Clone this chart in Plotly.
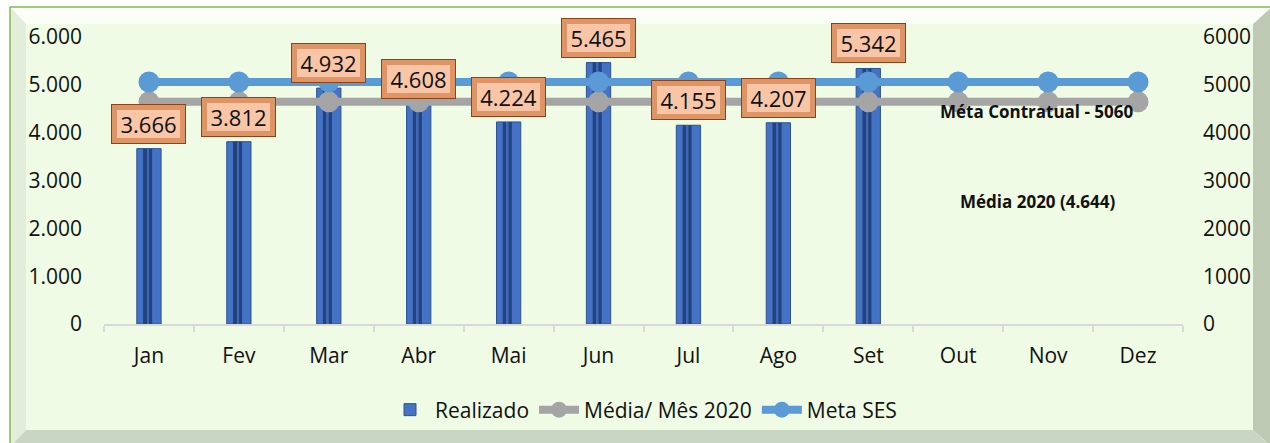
import plotly.graph_objects as go

# ---------------- data ----------------
months = ["Jan", "Fev", "Mar", "Abr", "Mai", "Jun", "Jul", "Ago", "Set", "Out", "Nov", "Dez"]
realizado = [3666, 3812, 4932, 4608, 4224, 5465, 4155, 4207, 5342]
media_mes_2020 = [4644] * 12
meta_ses = [5060] * 12
media_valor = 4644
meta_contratual = 5060

FONT = "Open Sans"
W, H = 1270, 443
L, R, T, B = 104, 1183, 37, 324  # plot area in pixels


def px(x):
    return (x - L) / (R - L)


def py(y):
    return (B - y) / (B - T)


def fmt(v):
    return f"{v:,}".replace(",", ".")


bar_x = months[:len(realizado)]

fig = go.Figure()

# main bars
fig.add_trace(go.Bar(
    x=bar_x, y=realizado, name="Realizado", width=0.27,
    marker=dict(color="#4472C4", line=dict(color="#2F528F", width=1)),
))
# inner dark stripe (3D look)
fig.add_trace(go.Bar(
    x=bar_x, y=realizado, width=0.1, offset=-0.065, showlegend=False, hoverinfo="skip",
    marker=dict(color="#23427E", line=dict(width=0)),
))
fig.add_trace(go.Bar(
    x=bar_x, y=realizado, width=0.02, offset=-0.02, showlegend=False, hoverinfo="skip",
    marker=dict(color="#3E68B5", line=dict(width=0)),
))

fig.add_trace(go.Scatter(
    x=months, y=media_mes_2020, name="Média/ Mês 2020", mode="lines+markers",
    line=dict(color="#A5A5A5", width=8), marker=dict(color="#A5A5A5", size=21),
    yaxis="y2",
))
fig.add_trace(go.Scatter(
    x=months, y=meta_ses, name="Meta SES", mode="lines+markers",
    line=dict(color="#5B9BD5", width=8), marker=dict(color="#5B9BD5", size=21),
    yaxis="y2",
))

# ---------------- frame (bevelled chart area) ----------------
def poly(points, color):
    path = "M " + " L ".join(f"{px(a)},{py(b)}" for a, b in points) + " Z"
    return dict(type="path", xref="paper", yref="paper", path=path,
                fillcolor=color, line=dict(width=0), layer="below")


O = (10, 7, 1272, 447)
I = (26, 24, 1253, 430)
shapes = [
    poly([(O[0], O[1]), (O[2], O[1]), (I[2], I[1]), (I[0], I[1])], "#FAFEF6"),
    poly([(O[0], O[1]), (I[0], I[1]), (I[0], I[3]), (O[0], O[3])], "#E3EEDA"),
    poly([(O[2], O[1]), (O[2], O[3]), (I[2], I[3]), (I[2], I[1])], "#BDC9B3"),
    poly([(O[0], O[3]), (I[0], I[3]), (I[2], I[3]), (O[2], O[3])], "#C9D6C1"),
    poly([(I[0], I[1]), (I[2], I[1]), (I[2], I[3]), (I[0], I[3])], "#EFFBE4"),
    dict(type="line", xref="paper", yref="paper", x0=px(O[0]), y0=py(O[1]), x1=px(O[2]), y1=py(O[1]),
         line=dict(color="#7DBB4E", width=1.5), layer="below"),
    dict(type="line", xref="paper", yref="paper", x0=px(O[0]), y0=py(O[1]), x1=px(O[0]), y1=py(O[3]),
         line=dict(color="#7DBB4E", width=1.5), layer="below"),
]

# ---------------- annotations ----------------
annotations = []
for m, v in zip(bar_x, realizado):
    # outer (darker bevel) box
    annotations.append(dict(
        x=m, y=v, xref="x", yref="y", text=fmt(v), showarrow=False,
        xanchor="center", yanchor="bottom", yshift=5, width=71, height=36,
        bgcolor="#DE9464", bordercolor="#8A4418", borderwidth=1, borderpad=1,
        font=dict(family=FONT, size=22, color="rgba(0,0,0,0)"),
    ))
    # inner (lighter face) box with the value
    annotations.append(dict(
        x=m, y=v, xref="x", yref="y", text=fmt(v), showarrow=False,
        xanchor="center", yanchor="bottom", yshift=11, width=63, height=28,
        bgcolor="#F8C6A6", borderwidth=0, borderpad=0,
        font=dict(family=FONT, size=22, color="#111111"),
    ))

annotations.append(dict(
    x=px(1037), y=py(111), xref="paper", yref="paper", xanchor="center", yanchor="middle",
    text=f"<b>Méta Contratual - {meta_contratual}</b>", showarrow=False,
    font=dict(family=FONT, size=17, color="#111111"),
))
annotations.append(dict(
    x=px(1037), y=py(202), xref="paper", yref="paper", xanchor="center", yanchor="middle",
    text=f"<b>Média 2020 ({fmt(media_valor)})</b>", showarrow=False,
    font=dict(family=FONT, size=17, color="#111111"),
))

fig.update_layout(
    width=W, height=H,
    margin=dict(l=L, r=W - R, t=T, b=H - B),
    paper_bgcolor="white", plot_bgcolor="rgba(0,0,0,0)",
    separators=",.",
    barmode="overlay",
    font=dict(family=FONT, size=22, color="#111111"),
    shapes=shapes, annotations=annotations,
    showlegend=True,
    legend=dict(orientation="h", x=0.5, xanchor="center", y=py(410), yanchor="middle",
                font=dict(family=FONT, size=21, color="#111111"),
                bgcolor="rgba(0,0,0,0)", itemwidth=40, traceorder="normal"),
    xaxis=dict(type="category", categoryorder="array", categoryarray=months,
               range=[-0.5, 11.5], showgrid=False, zeroline=False,
               showline=True, linecolor="#D9D9D9", linewidth=2,
               ticks="outside", tickson="boundaries", ticklen=6, tickcolor="#D9D9D9", tickwidth=2,
               ticklabelstandoff=12, tickfont=dict(family=FONT, size=21)),
    yaxis=dict(range=[0, 6000], dtick=1000, tickformat=",d", showgrid=False, zeroline=False,
               showline=False, ticks="", ticklabelstandoff=21, tickfont=dict(family=FONT, size=21)),
    yaxis2=dict(range=[0, 6000], dtick=1000, tickformat="d", overlaying="y", side="right",
                showgrid=False, zeroline=False, showline=False, ticks="", ticklabelstandoff=19,
                tickfont=dict(family=FONT, size=21)),
)

fig.write_html("out.html", config={"displayModeBar": False},
               post_script="document.body.style.margin='0px';")
